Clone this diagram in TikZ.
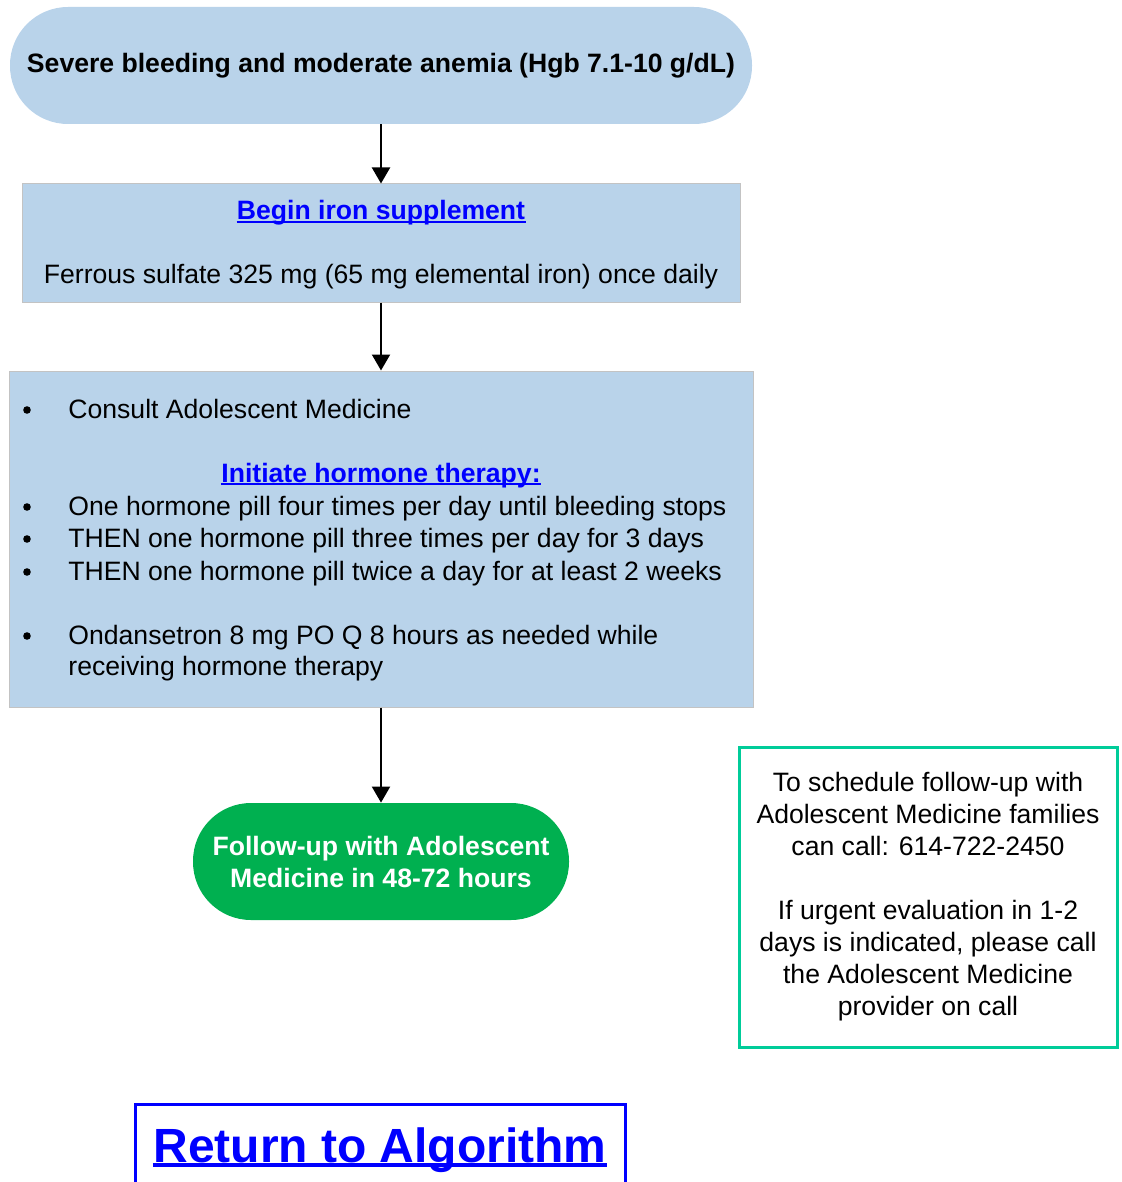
\documentclass[tikz,border=0pt]{standalone}
\usepackage{fontspec}
\setmainfont{Liberation Sans}
\usepackage{xcolor}
\usepackage{tikz}
\usetikzlibrary{positioning,arrows.meta}

\definecolor{boxblue}{HTML}{B9D3EA}
\definecolor{boxgray}{HTML}{C3C3C3}
\definecolor{linkblue}{HTML}{0000FF}
\definecolor{stopgreen}{HTML}{00B050}
\definecolor{notegreen}{HTML}{00CC99}

\tikzset{
  every node/.style={font=\fontsize{13.3}{16}\selectfont},
  >={Triangle[width=9pt,length=8pt]},
  terminal/.style={rectangle, rounded corners=29pt, minimum height=58.5pt, align=center,
    font=\fontsize{13.3}{16}\selectfont\bfseries},
  stepbox/.style={rectangle, draw=boxgray, fill=boxblue, line width=0.5pt},
  line/.style={anchor=base west, inner sep=0pt},
  dot/.style={circle, fill=black, inner sep=0pt, minimum size=3.8pt},
  linktext/.style={anchor=base, inner sep=0pt, text=linkblue, font=\fontsize{13.3}{16}\selectfont\bfseries},
  underline/.style={draw=linkblue, line width=0.8pt},
  flow/.style={->, line width=1pt}
}

\begin{document}
\begin{tikzpicture}[x=0.5pt,y=-0.5pt]
  \useasboundingbox (0,0) rectangle (1122,1182);
  \node[terminal, fill=boxblue, minimum width=371pt] (severe) at (381,65.5)
    {Severe bleeding and moderate anemia (Hgb 7.1-10 g/dL)};
  % iron
  \node[stepbox, minimum width=359pt, minimum height=59pt] (iron) at (381,243) {};
  \node[linktext] (ironhead) at (381,220) {Begin iron supplement};
  \draw[underline] ([yshift=-0.9pt]ironhead.base west) -- ([yshift=-0.9pt]ironhead.base east);
  \node[anchor=base, inner sep=0pt] (ferrous) at (381,284)
    {Ferrous sulfate 325 mg (65 mg elemental iron) once daily};
  % hormone plan
  \node[stepbox, minimum width=372pt, minimum height=168pt] (plan) at (381,539) {};
  \foreach \y in {418,515,547,580,644}
    \node[dot] (dot\y) at (27,\y-8) {};
  \node[line] (consult) at (68,418) {Consult Adolescent Medicine};
  \node[linktext] (hormone) at (381,482) {Initiate hormone therapy:};
  \draw[underline] ([yshift=-0.9pt]hormone.base west) -- ([yshift=-0.9pt]hormone.base east);
  \node[line] (qid) at (68,515) {One hormone pill four times per day until bleeding stops};
  \node[line] (tid) at (68,547) {THEN one hormone pill three times per day for 3 days};
  \node[line] (bid) at (68,580) {THEN one hormone pill twice a day for at least 2 weeks};
  \node[line] (ondan) at (68,644) {Ondansetron 8 mg PO Q 8 hours as needed while};
  \node[line] (ondanb) at (68,675) {receiving hormone therapy};
  \node[terminal, fill=stopgreen, text=white, minimum width=188pt] (followup) at (381,861.5)
    {Follow-up with Adolescent\\Medicine in 48-72 hours};
  \node[draw=notegreen, line width=1.5pt, minimum width=189pt, minimum height=150pt, align=center]
    (note) at (928,897)
    {To schedule follow-up with\\Adolescent Medicine families\\can call: 614-722-2450\\[16pt]%
     If urgent evaluation in 1-2\\days is indicated, please call\\the Adolescent Medicine\\provider on call};
  % return link
  \node[draw=linkblue, line width=1.5pt, minimum width=245pt, minimum height=50pt] (back) at (380,1154) {};
  \node[linktext, font=\fontsize{24}{28}\selectfont\bfseries] (backtext) at (380,1162) {Return to Algorithm};
  \draw[underline, line width=2pt] ([yshift=-1.5pt]backtext.base west) -- ([yshift=-1.5pt]backtext.base east);
  \draw[flow] (severe) -- (iron);
  \draw[flow] (iron) -- (plan);
  \draw[flow] (plan) -- (followup);
\end{tikzpicture}
\end{document}
